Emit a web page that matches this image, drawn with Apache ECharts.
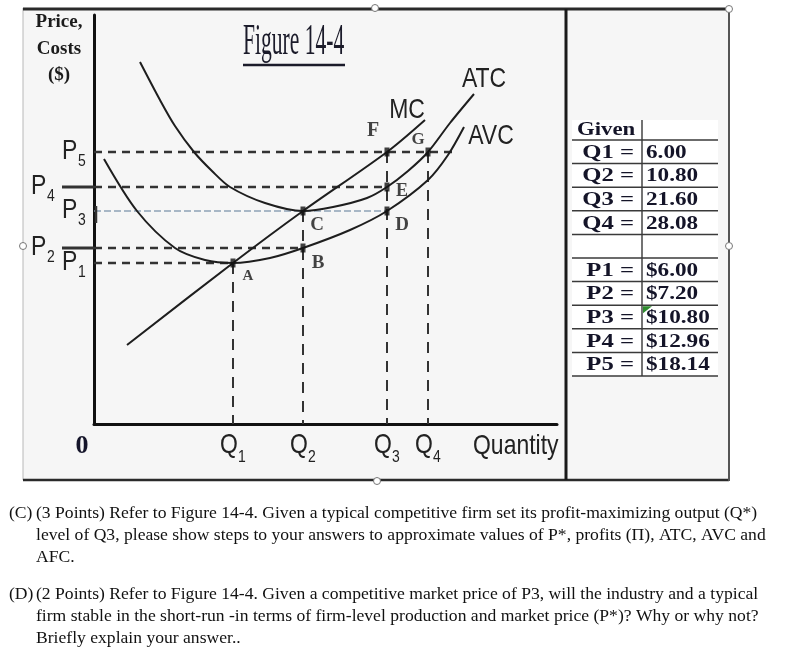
<!DOCTYPE html>
<html>
<head>
<meta charset="utf-8">
<script src="https://cdn.jsdelivr.net/npm/echarts@6/dist/echarts.min.js"></script>
<style>
    html, body { margin: 0; padding: 0; background: #fff; }
    #main { width: 792px; height: 669px; }
</style>
</head>
<body>
<div id="main"></div>
<script>
// positions, on the drawing's own axes (1 unit ~ 10px)
var qLabels = ['1', '2', '3', '4'];
var qPos = [13.9, 20.9, 29.3, 33.4];
var pLabels = ['1', '2', '3', '4', '5'];
var pPos = [16.1, 17.6, 21.3, 23.7, 27.2];

// where the dashed guides stop
var hGuideEnd = [13.9, 20.9, 29.3, 29.3, 36.1];   // P1..P5, going right
var vGuideTop = [16.1, 21.3, 27.2, 27.2];         // Q1..Q4, going up

var mcCurve = [[3.3, 7.9], [13.9, 16.1], [20.9, 21.3], [29.3, 27.2], [33.1, 30.4]];
var atcCurve = [[4.6, 36.2], [6.6, 32.4], [8.1, 29.8], [10.0, 27.2], [11.8, 25.3], [13.6, 23.7],
    [17.1, 22.1], [20.9, 21.3], [23.9, 21.7], [27.3, 22.6], [29.3, 23.7], [31.4, 25.3],
    [33.4, 27.2], [35.6, 30.1], [38.0, 33.0]];
var avcCurve = [[1.0, 26.5], [4.3, 21.3], [8.1, 17.6], [11.1, 16.4], [13.9, 16.1], [17.6, 16.6],
    [20.9, 17.6], [25.6, 19.4], [29.3, 21.3], [33.4, 24.4], [35.4, 26.9], [37.0, 29.7]];

// labelled points: index into qPos / pPos
var pointNames = ['A', 'B', 'C', 'D', 'E', 'F', 'G'];
var pointQ = [0, 1, 1, 2, 2, 2, 3];
var pointP = [0, 1, 2, 2, 3, 4, 4];

// the "Given" table
var givenQ = [6.00, 10.80, 21.60, 28.08];
var givenP = [6.00, 7.20, 10.80, 12.96, 18.14];

var paraC = ['(3 Points) Refer to Figure 14-4. Given a typical competitive firm set its profit-maximizing output (Q*)',
    'level of Q3, please show steps to your answers to approximate values of P*, profits (Π), ATC, AVC and',
    'AFC.'];
var paraD = ['(2 Points) Refer to Figure 14-4. Given a competitive market price of P3, will the industry and a typical',
    'firm stable in the short-run -in terms of firm-level production and market price (P*)? Why or why not?',
    'Briefly explain your answer..'];

var chart = echarts.init(document.getElementById('main'));

var labelOffset = [[15, 13], [15, 15], [14, 14], [15, 14], [15, 4], [-14, -21], [-10, -12]];
var labelSize = [15, 19, 19, 19, 18, 20, 17];

var series = [];
var ink = '#1e1e1e';

pPos.forEach(function (p, i) {
    var light = i === 2;
    series.push({
        type: 'line', silent: true, showSymbol: false, z: 2,
        data: [[0, p], [hGuideEnd[i], p]],
        lineStyle: light ? {color: '#8ea2b6', width: 1.5, type: [7, 3]}
                         : {color: '#333', width: 2.5, type: [8, 6]}
    });
});
qPos.forEach(function (q, i) {
    series.push({
        type: 'line', silent: true, showSymbol: false, z: 2,
        data: [[q, vGuideTop[i]], [q, 0]],
        lineStyle: {color: '#333', width: 2, type: [11, 8]}
    });
});

[mcCurve, atcCurve, avcCurve].forEach(function (c) {
    series.push({
        type: 'line', silent: true, showSymbol: false, z: 3,
        smooth: 0.3,
        data: c,
        lineStyle: {color: ink, width: 2}
    });
});

series.push({
    type: 'scatter', silent: true, z: 4,
    symbol: 'rect',
    symbolSize: [5, 9],
    itemStyle: {color: '#111'},
    data: pointNames.map(function (n, i) {
        return {
            name: n,
            value: [qPos[pointQ[i]], pPos[pointP[i]]],
            label: {offset: labelOffset[i], fontSize: labelSize[i]}
        };
    }),
    label: {
        show: true, position: 'inside', formatter: '{b}',
        fontFamily: 'Liberation Serif', fontWeight: 'bold', color: '#151515'
    }
});

var noAxisBits = {
    axisTick: {show: false}, axisLabel: {show: false}, splitLine: {show: false}
};

chart.setOption({
    animation: false,
    backgroundColor: '#fff',
    grid: {left: 94, top: 15, width: 463, height: 409, containLabel: false, outerBoundsMode: 'none'},
    xAxis: Object.assign({
        type: 'value', min: 0, max: 46.3,
        axisLine: {show: true, onZero: false, lineStyle: {color: '#111', width: 3}}
    }, noAxisBits),
    yAxis: Object.assign({
        type: 'value', min: 0, max: 40.9,
        axisLine: {show: true, onZero: false, lineStyle: {color: '#111', width: 3}}
    }, noAxisBits),
    series: series
});

function px(x, y) {
    return chart.convertToPixel({gridIndex: 0}, [x, y]);
}

var els = [];
function txt(x, y, s, o) {
    o = o || {};
    var align = o.align || 'left';
    els.push({
        type: 'text', x: x, y: y, z: 50, scaleX: o.sx || 1, silent: true,
        style: {
            text: s, fill: o.color || '#1c1c1c',
            fontFamily: o.family || 'Liberation Serif',
            fontSize: o.size || 16, fontWeight: o.weight || 'normal',
            align: align, verticalAlign: 'middle',
            textAlign: align, textVerticalAlign: 'middle'
        }
    });
}
// condensed sans, like Arial Narrow
function ntxt(x, y, s, size, align) {
    txt(x, y, s, {family: 'Liberation Sans', size: size, sx: 0.82, align: align, color: '#222'});
}
function seg(x1, y1, x2, y2, color, w, z) {
    els.push({
        type: 'line', silent: true, z: z == null ? 50 : z,
        shape: {x1: x1, y1: y1, x2: x2, y2: y2},
        style: {stroke: color, lineWidth: w}
    });
}
function handle(x, y) {
    els.push({type: 'circle', z: 60, silent: true, shape: {cx: x, cy: y, r: 3.5},
        style: {fill: '#fff', stroke: '#777', lineWidth: 1}});
}

// frame and panels
els.push({type: 'rect', z: -10, silent: true, shape: {x: 23, y: 8, width: 706, height: 472},
    style: {fill: '#f6f6f6'}});
seg(23, 8, 23, 480, '#b8b8b8', 1, 5);
seg(23, 9, 729, 9, '#2a2a2a', 3, 5);
seg(23, 480, 729, 480, '#2a2a2a', 2.5, 5);
seg(729, 8, 729, 481, '#555', 2, 5);
seg(566, 9, 566, 480, '#1a1a1a', 3, 5);
handle(375, 8); handle(23, 246); handle(729, 246); handle(377, 481); handle(729, 9);

// axis caption and title
txt(59, 22, 'Price,', {size: 19, weight: 'bold', align: 'center'});
txt(59, 49, 'Costs', {size: 19, weight: 'bold', align: 'center'});
txt(59, 75, '($)', {size: 19, weight: 'bold', align: 'center'});

txt(243, 42, 'Figure 14-4', {size: 44, sx: 0.49, color: '#1b1b2a'});
seg(243, 65, 345, 65, '#1b1b2a', 2.5);

// curve names next to their upper ends
var mcEnd = px(mcCurve[mcCurve.length - 1][0], mcCurve[mcCurve.length - 1][1]);
var atcEnd = px(atcCurve[atcCurve.length - 1][0], atcCurve[atcCurve.length - 1][1]);
var avcEnd = px(avcCurve[avcCurve.length - 1][0], avcCurve[avcCurve.length - 1][1]);
ntxt(mcEnd[0] - 18, mcEnd[1] - 10, 'MC', 28, 'center');
ntxt(atcEnd[0] + 10, atcEnd[1] - 15, 'ATC', 28, 'center');
ntxt(avcEnd[0] + 27, avcEnd[1] + 9, 'AVC', 28, 'center');

// price labels on the left
var axisX = px(0, 0)[0];
pPos.forEach(function (p, i) {
    var y = px(0, p)[1];
    var far = (i === 1 || i === 3);
    var lx = far ? axisX - 63 : axisX - 32;
    ntxt(lx, y - 1, 'P', 28);
    ntxt(lx + 16, y + 9, pLabels[i], 17);
    if (far) seg(axisX - 32, y, axisX, y, '#333', 3);
});
var p3y = px(0, pPos[2])[1];
seg(axisX + 2, p3y - 5, axisX + 2, p3y + 12, '#333', 2.5);

// quantity labels
var axisY = px(0, 0)[1];
qPos.forEach(function (q, i) {
    var x = px(q, 0)[0];
    ntxt(x - 13, axisY + 21, 'Q', 28);
    ntxt(x + 5, axisY + 33, qLabels[i], 17);
});
txt(axisX - 12, axisY + 22, '0', {size: 26, weight: 'bold', align: 'center', color: '#15152a'});
ntxt(473, axisY + 22, 'Quantity', 28);

// table
var tL = 572, tM = 642, tR = 718, tTop = 120, firstLine = 140, rowH = 23.6;
var rows = [];
givenQ.forEach(function (v, i) { rows.push(['Q' + (i + 1) + ' =', v.toFixed(2)]); });
rows.push(['', '']);
givenP.forEach(function (v, i) { rows.push(['P' + (i + 1) + ' =', '$' + v.toFixed(2)]); });
var tBottom = firstLine + rows.length * rowH;
els.push({type: 'rect', z: 1, silent: true,
    shape: {x: tL, y: tTop, width: tR - tL, height: tBottom - tTop}, style: {fill: '#fff'}});
seg(tM, tTop, tM, tBottom, '#444', 1.5, 6);
for (var i = 0; i <= rows.length; i++) {
    seg(tL, firstLine + i * rowH, tR, firstLine + i * rowH, '#3a3a3a', 1.5, 6);
}
txt(577, 130, 'Given', {size: 19, weight: 'bold', sx: 1.2, color: '#141428'});
rows.forEach(function (r, i) {
    var cy = firstLine + i * rowH + rowH / 2 + 1;
    if (r[0]) txt(634, cy, r[0], {size: 19, weight: 'bold', sx: 1.3, align: 'right', color: '#141428'});
    if (r[1]) txt(646, cy, r[1], {size: 19, weight: 'bold', sx: 1.22, color: '#141428'});
});
els.push({type: 'polygon', z: 55, silent: true,
    shape: {points: [[643, firstLine + 7 * rowH + 1], [652, firstLine + 7 * rowH + 1], [643, firstLine + 7 * rowH + 8]]},
    style: {fill: '#2e8b2e'}});

// questions under the figure
var fs = 17.6;
txt(9, 513, '(C)', {size: fs, color: '#111'});
paraC.forEach(function (l, i) { txt(36, 513 + i * 22, l, {size: fs, color: '#111'}); });
txt(9, 594, '(D)', {size: fs, color: '#111'});
paraD.forEach(function (l, i) { txt(36, 594 + i * 22, l, {size: fs, color: '#111'}); });

chart.setOption({graphic: {elements: els}});
</script>
</body>
</html>
